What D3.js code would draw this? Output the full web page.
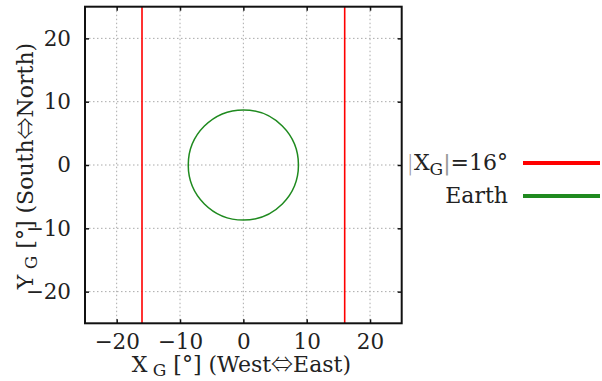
<!DOCTYPE html>
<html>
<head>
<meta charset="utf-8">
<script src="https://cdn.jsdelivr.net/npm/d3@7"></script>
<style>
  html, body { margin: 0; padding: 0; background: #fff; }
  svg { display: block; }
  text { font-family: "DejaVu Serif", serif; fill: #222; }
  .arrow { font-family: "Noto Sans CJK JP", "DejaVu Sans", sans-serif; font-weight: 300; }
</style>
</head>
<body>
<svg id="chart" width="602" height="381"></svg>
<script>
// Ground-track limits in geostationary view coordinates (degrees)
const xDomain = [-25, 25];
const yDomain = [-25, 25];
const tickValues = [-20, -10, 0, 10, 20];
const limitLines = [-16, 16];          // |X_G| = 16°
const earthRadiusDeg = [8.7];          // apparent Earth radius seen from GEO
const legendItems = [
  { key: "limit", color: "#ff0000" },
  { key: "earth", color: "#1f8a1f" }
];

const svg = d3.select("#chart");
const plot = { left: 85, right: 401.7, top: 6.7, bottom: 323.3 };

const x = d3.scaleLinear().domain(xDomain).range([plot.left, plot.right]);
const y = d3.scaleLinear().domain(yDomain).range([plot.bottom, plot.top]);

// dotted grid
const grid = svg.append("g");
grid.selectAll("line.gx").data(tickValues).join("line")
  .attr("x1", d => x(d)).attr("x2", d => x(d))
  .attr("y1", plot.top).attr("y2", plot.bottom)
  .attr("stroke", "#aaa").attr("stroke-width", 1).attr("stroke-dasharray", "1.5,2.5");
grid.selectAll("line.gy").data(tickValues).join("line")
  .attr("y1", d => y(d)).attr("y2", d => y(d))
  .attr("x1", plot.left).attr("x2", plot.right)
  .attr("stroke", "#aaa").attr("stroke-width", 1).attr("stroke-dasharray", "1.5,2.5");

// |X_G| limit lines
svg.append("g").selectAll("line").data(limitLines).join("line")
  .attr("x1", d => x(d)).attr("x2", d => x(d))
  .attr("y1", plot.top).attr("y2", plot.bottom)
  .attr("stroke", legendItems[0].color).attr("stroke-width", 1.6);

// Earth disc outline
svg.append("g").selectAll("circle").data(earthRadiusDeg).join("circle")
  .attr("cx", x(0)).attr("cy", y(0))
  .attr("r", d => x(d) - x(0))
  .attr("fill", "none")
  .attr("stroke", legendItems[1].color).attr("stroke-width", 1.5);

// axes with inward ticks on all four sides
function styleAxis(g) {
  g.select(".domain").remove();
  g.selectAll(".tick line").attr("stroke", "#111").attr("stroke-width", 1.5);
  g.selectAll(".tick text").style("font-family", "DejaVu Serif").style("font-size", "21.5px").attr("fill", "#222");
}
svg.append("g").attr("transform", `translate(0,${plot.bottom})`)
  .call(d3.axisBottom(x).tickValues(tickValues).tickSize(-4).tickPadding(10).tickFormat(d3.format("d")))
  .call(styleAxis);
svg.append("g").attr("transform", `translate(0,${plot.top})`)
  .call(d3.axisTop(x).tickValues(tickValues).tickSize(-4).tickFormat(""))
  .call(styleAxis);
svg.append("g").attr("transform", `translate(${plot.left},0)`)
  .call(d3.axisLeft(y).tickValues(tickValues).tickSize(-4).tickPadding(14).tickFormat(d3.format("d")))
  .call(styleAxis);
svg.append("g").attr("transform", `translate(${plot.right},0)`)
  .call(d3.axisRight(y).tickValues(tickValues).tickSize(-4).tickFormat(""))
  .call(styleAxis);

// frame
svg.append("rect")
  .attr("x", plot.left).attr("y", plot.top)
  .attr("width", plot.right - plot.left).attr("height", plot.bottom - plot.top)
  .attr("fill", "none").attr("stroke", "#111").attr("stroke-width", 2);

// axis title builder: main letter, subscript G, unit, then direction pair with a double arrow
function axisTitle(sel, letter, from, to) {
  sel.append("tspan").text(letter);
  sel.append("tspan").attr("dy", 4).style("font-size", "17px").text(" G");
  sel.append("tspan").attr("dy", -4).text(" [°] (" + from);
  sel.append("tspan").attr("class", "arrow").style("font-size", "22px").text("⇔");
  sel.append("tspan").text(to + ")");
}

const xt = svg.append("text")
  .attr("x", (plot.left + plot.right) / 2 - 2).attr("y", 372)
  .attr("text-anchor", "middle").style("font-size", "22px");
axisTitle(xt, "X", "West", "East");

const yt = svg.append("text")
  .attr("transform", `translate(33,${(plot.top + plot.bottom) / 2 + 1}) rotate(-90)`)
  .attr("text-anchor", "middle").style("font-size", "22px");
axisTitle(yt, "Y", "South", "North");

// legend
const legend = svg.append("g");
const ly = [163, 196];
const l1 = legend.append("text").attr("x", 508).attr("y", ly[0] + 7)
  .attr("text-anchor", "end").style("font-size", "22px");
l1.append("tspan").attr("fill", "#999").style("font-family", "DejaVu Sans").style("font-weight", "300").text("|");
l1.append("tspan").text("X");
l1.append("tspan").attr("dy", 5).style("font-size", "17px").text("G");
l1.append("tspan").attr("dy", -5).attr("fill", "#999").style("font-family", "DejaVu Sans").text("|");
l1.append("tspan").text("=16°");
legend.append("text").attr("x", 508).attr("y", ly[1] + 7)
  .attr("text-anchor", "end").style("font-size", "22px").text("Earth");
legend.selectAll("line").data(legendItems).join("line")
  .attr("x1", 523).attr("x2", 600)
  .attr("y1", (d, i) => ly[i]).attr("y2", (d, i) => ly[i])
  .attr("stroke", d => d.color).attr("stroke-width", 4);
</script>
</body>
</html>
